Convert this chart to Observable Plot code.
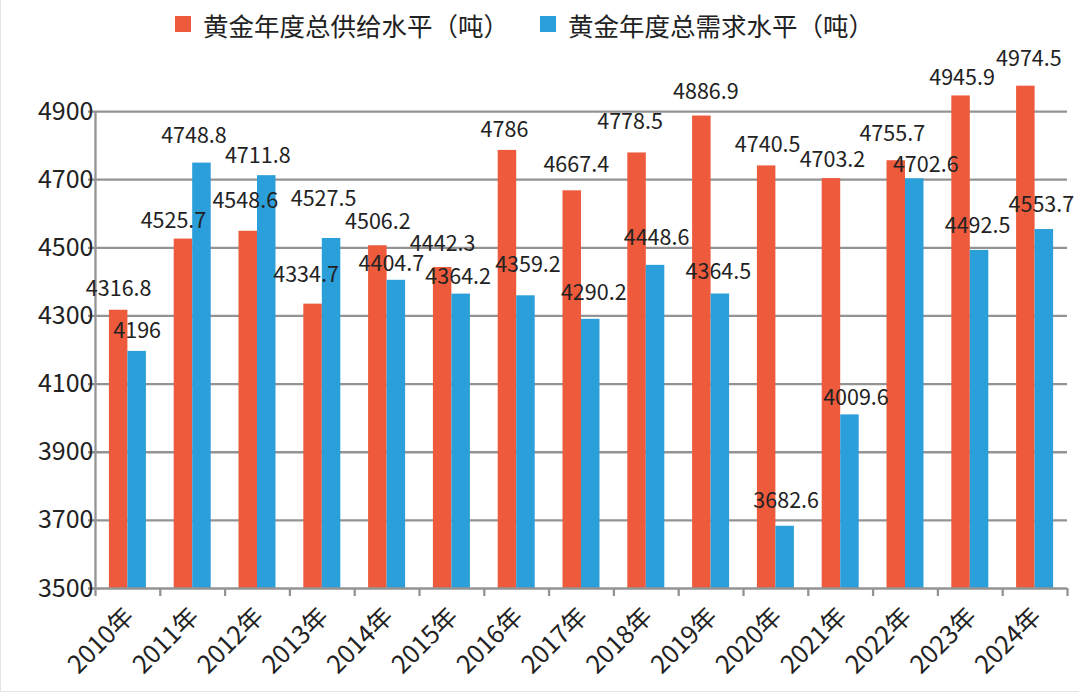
<!DOCTYPE html>
<html>
<head>
<meta charset="utf-8">
<script src="https://cdn.jsdelivr.net/npm/d3@7"></script>
<script src="https://cdn.jsdelivr.net/npm/@observablehq/plot@0.6"></script>
<style>
  html, body { margin: 0; padding: 0; background: #fff; }
  body { width: 1080px; height: 693px; overflow: hidden; font-family: "Noto Sans CJK SC", "Noto Sans", sans-serif; }
  #frame { position: relative; width: 1078px; height: 691px; border-left: 1px solid #e4e4e4; border-bottom: 1px solid #e4e4e4; }
  #legend { position: relative; height: 40px; font-size: 25.5px; color: #222; z-index: 2; }
  .item { position: absolute; top: -1px; height: 50px; display: flex; align-items: center; }
  .sw { width: 16px; height: 16px; margin-right: 12px; }
  #chart svg { display: block; }
</style>
</head>
<body>
<div id="frame">
  <div id="legend"></div>
  <div id="chart"></div>
</div>
<script>
const years = ["2010年","2011年","2012年","2013年","2014年","2015年","2016年","2017年","2018年","2019年","2020年","2021年","2022年","2023年","2024年"];
const supply = [4316.8, 4525.7, 4548.6, 4334.7, 4506.2, 4442.3, 4786, 4667.4, 4778.5, 4886.9, 4740.5, 4703.2, 4755.7, 4945.9, 4974.5];
const demand = [4196, 4748.8, 4711.8, 4527.5, 4404.7, 4364.2, 4359.2, 4290.2, 4448.6, 4364.5, 3682.6, 4009.6, 4702.6, 4492.5, 4553.7];
const seriesNames = ["黄金年度总供给水平（吨）", "黄金年度总需求水平（吨）"];
const seriesColors = ["#ee5a3c", "#2a9fda"];
const yTicks = [3500, 3700, 3900, 4100, 4300, 4500, 4700, 4900];

// label nudges (style: pixel offsets of each value label from its default spot)
const supplyNudgeX = [0, -10, -3, -7, 0, 0, -3, 4, -7, 4, 1, 1, -4, 1, 3];
const supplyNudgeY = [-21, -18, -30, -29, -24, -23, -20, -26, -31, -24, -21, -19, -27, -18, -27];
const demandNudgeX = [0, -8, -9, -8, -5, -3, 2, 3, 1, -2, 1, 6, 11, -2, -3];
const demandNudgeY = [-20, -27, -20, -39, -16, -17, -31, -26, -27, -22, -25, -17, -14, -24, -24];

// legend
const legend = document.getElementById("legend");
const legendLeft = [174, 539];
seriesNames.forEach((name, i) => {
  const it = document.createElement("div");
  it.className = "item";
  it.style.left = legendLeft[i] + "px";
  const sw = document.createElement("div");
  sw.className = "sw";
  sw.style.background = seriesColors[i];
  const t = document.createElement("span");
  t.textContent = name;
  it.appendChild(sw); it.appendChild(t);
  legend.appendChild(it);
});

const data = [];
years.forEach((y, i) => {
  data.push({year: y, series: seriesNames[0], value: supply[i], idx: 0, nx: supplyNudgeX[i], ny: supplyNudgeY[i]});
  data.push({year: y, series: seriesNames[1], value: demand[i], idx: 1, nx: demandNudgeX[i], ny: demandNudgeY[i]});
});

const width = 1078, height = 651;
const marginLeft = 94, marginRight = 12, marginTop = 37, marginBottom = 103;
const bw = (width - marginLeft - marginRight) / years.length;
const barW = 18.5;
const outer = bw / 2 - barW;

const gridColor = "#939393";
const fontFam = "'Noto Sans CJK SC', 'Noto Sans', sans-serif";

const labelMarks = data.map(d => Plot.text([d], {
  x: "year", y: "value", text: r => String(r.value),
  dx: (d.idx === 0 ? -barW / 2 : barW / 2) + d.nx, dy: d.ny,
  fontSize: 21.5, fill: "#222"
}));

const chart = Plot.plot({
  width, height, marginLeft, marginRight, marginTop, marginBottom,
  style: {fontFamily: fontFam, color: "#222", background: "#fff", overflow: "visible"},
  x: {type: "band", domain: years, padding: 0, round: false, label: null},
  y: {domain: [3500, 5000], label: null},
  color: {domain: seriesNames, range: seriesColors},
  marks: [
    Plot.ruleY(yTicks.slice(1), {y: d => d, stroke: gridColor, strokeWidth: 2.3, insetLeft: -7}),
    Plot.barY(data.filter(d => d.idx === 0), {x: "year", y1: 3500, y2: "value", fill: "series", insetLeft: outer, insetRight: bw / 2}),
    Plot.barY(data.filter(d => d.idx === 1), {x: "year", y1: 3500, y2: "value", fill: "series", insetLeft: bw / 2, insetRight: outer}),
    Plot.ruleY([yTicks[0]], {y: d => d, stroke: gridColor, strokeWidth: 2.3, insetLeft: -7}),
    Plot.ruleX([years[0]], {x: d => d, dx: -bw / 2, y1: yTicks[0], y2: yTicks[yTicks.length - 1], stroke: gridColor, strokeWidth: 2.3}),
    Plot.ruleX(years, {x: d => d, dx: -bw / 2, insetTop: height - marginTop - marginBottom, insetBottom: -8, stroke: gridColor, strokeWidth: 2.3}),
    Plot.ruleX([years[years.length - 1]], {x: d => d, dx: bw / 2, insetTop: height - marginTop - marginBottom, insetBottom: -8, stroke: gridColor, strokeWidth: 2.3}),
    Plot.axisY({ticks: yTicks, tickSize: 0, tickPadding: 2, fontSize: 25, tickFormat: d => String(d)}),
    Plot.axisX({tickSize: 0, tickPadding: 24, tickRotate: -45, fontSize: 25, dx: 2}),
    ...labelMarks
  ]
});
document.getElementById("chart").appendChild(chart);
</script>
</body>
</html>
